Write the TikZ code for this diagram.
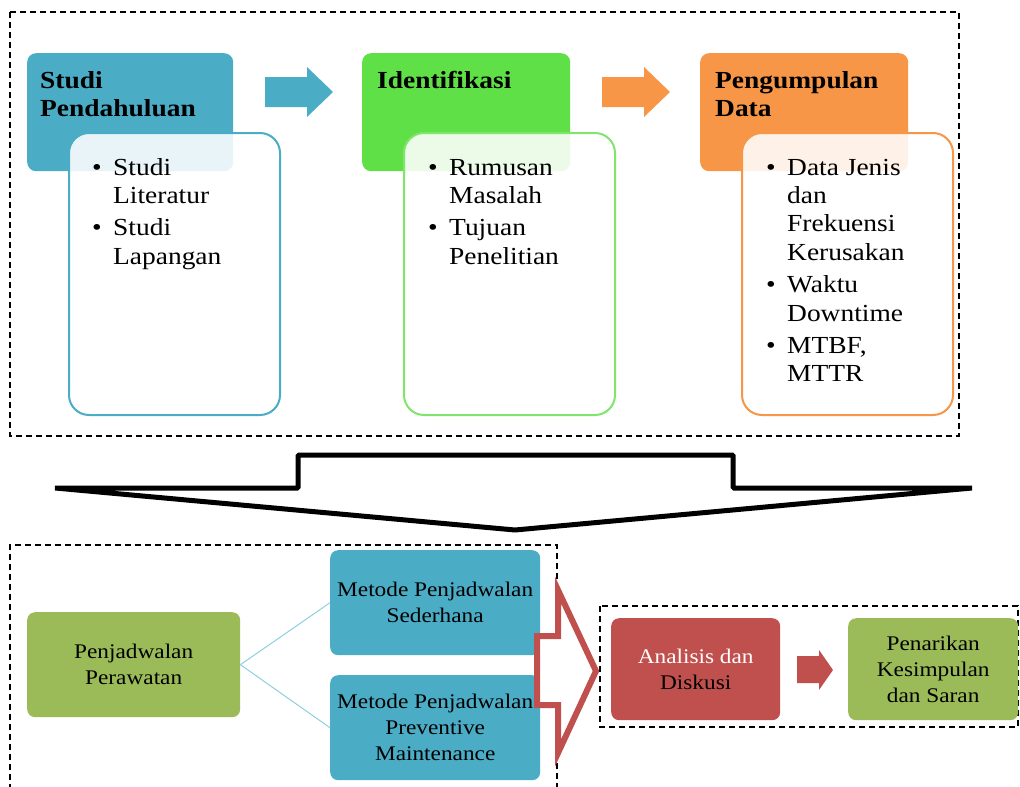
\documentclass[tikz,border=0pt]{standalone}
\usepackage{fontspec}
\setmainfont{Liberation Serif}[FakeStretch=1.12]
\definecolor{cblue}{HTML}{4BACC6}
\definecolor{cgreen}{RGB}{95,224,70}
\definecolor{corange}{HTML}{F79646}
\definecolor{colive}{HTML}{9BBB59}
\definecolor{cred}{HTML}{C0504D}
\definecolor{cline}{HTML}{8CCFE0}
\newcommand{\bul}{\makebox[21pt][l]{\textbullet}}
\newcommand{\ind}{\hspace*{21pt}}
\newcommand{\topfont}{\fontsize{24.5}{28.4}\selectfont}
\newcommand{\lowfont}{\fontsize{20.8}{26}\selectfont}
\begin{document}
\begin{tikzpicture}[x=1pt,y=-1pt,
  dashbox/.style={draw=black, line width=1.4pt, dash pattern=on 6pt off 4pt},
  hdr/.style={rounded corners=9pt, draw=none, anchor=north west, inner sep=0pt},
  subbox/.style={rounded corners=20pt, line width=2pt, fill=white, fill opacity=0.88, anchor=north west, inner sep=0pt, minimum width=211pt, minimum height=282pt},
  htext/.style={anchor=base west, inner sep=0pt, font=\topfont\bfseries},
  btext/.style={anchor=base west, inner sep=0pt, font=\topfont},
  lbox/.style={rounded corners=8pt, draw=none, anchor=north west, inner sep=2pt, align=center, font=\lowfont},
  linkline/.style={draw=cline, line width=1pt}]
\useasboundingbox (0,0) rectangle (1020,787);

% top dashed frame
\draw[dashbox] (10,12) rectangle (959,436);

% headers
\node[hdr, fill=cblue, minimum width=206pt, minimum height=118pt] (h1) at (27,53) {};
\node[hdr, fill=cgreen, minimum width=208pt, minimum height=118pt] (h2) at (362,53) {};
\node[hdr, fill=corange, minimum width=208pt, minimum height=118pt] (h3) at (700,53) {};

% block arrows between headers
\fill[cblue] (265,77) -- (307,77) -- (307,67) -- (333,92) -- (307,117) -- (307,107) -- (265,107) -- cycle;
\fill[corange] (602,77) -- (644,77) -- (644,67) -- (670,92) -- (644,117) -- (644,107) -- (602,107) -- cycle;

% sub boxes
\node[subbox, draw=cblue] (s1) at (68,132) {};
\node[subbox, draw=cgreen!80!white] (s2) at (403,132) {};
\node[subbox, draw=corange] (s3) at (741,132) {};

% header texts
\node[htext] (t1) at (40,88) {\begin{tabular}[t]{@{}l@{}}Studi\\Pendahuluan\end{tabular}};
\node[htext] (t2) at (377,88) {\begin{tabular}[t]{@{}l@{}}Identifikasi\end{tabular}};
\node[htext] (t3) at (715,88) {\begin{tabular}[t]{@{}l@{}}Pengumpulan\\Data\end{tabular}};

% bullet lists
\node[btext] (b1) at (92,175) {\begin{tabular}[t]{@{}l@{}}\bul Studi\\\ind Literatur\\[4pt]\bul Studi\\\ind Lapangan\end{tabular}};
\node[btext] (b2) at (428,175) {\begin{tabular}[t]{@{}l@{}}\bul Rumusan\\\ind Masalah\\[4pt]\bul Tujuan\\\ind Penelitian\end{tabular}};
\node[btext] (b3) at (766,175) {\begin{tabular}[t]{@{}l@{}}\bul Data Jenis\\\ind dan\\\ind Frekuensi\\\ind Kerusakan\\[4pt]\bul Waktu\\\ind Downtime\\[4pt]\bul MTBF,\\\ind MTTR\end{tabular}};

% big down arrow
\draw[line width=5pt, line join=bevel] (55,488) -- (298,488) -- (298,455) -- (733,455) -- (733,488) -- (972,488) -- (515,530) -- cycle;

% bottom-left dashed frame
\draw[dashbox] (10,800) -- (10,545) -- (557,545) -- (557,800);

\node[lbox, fill=colive, minimum width=213pt, minimum height=105pt] (pp) at (27,612) {Penjadwalan\\Perawatan};
\node[lbox, fill=cblue, minimum width=210pt, minimum height=105pt] (m1) at (330,550) {Metode Penjadwalan\\Sederhana};
\node[lbox, fill=cblue, minimum width=210pt, minimum height=105pt] (m2) at (330,675) {Metode Penjadwalan\\Preventive\\Maintenance};
\draw[linkline] (pp.east) -- (m1.west);
\draw[linkline] (pp.east) -- (m2.west);

% hollow red arrow
\draw[draw=cred, fill=white, line width=6pt, line join=miter, miter limit=8] (537,636) -- (558,636) -- (558,590) -- (596,671) -- (558,753) -- (558,705) -- (537,705) -- cycle;

% right dashed frame
\draw[dashbox] (600,606) rectangle (1018,727);
\node[lbox, fill=cred, minimum width=169pt, minimum height=102pt] (ad) at (611,618) {\textcolor{white}{Analisis dan}\\Diskusi};
\fill[cred] (797,656) -- (819,656) -- (819,650) -- (833,670) -- (819,690) -- (819,683) -- (797,683) -- cycle;
\node[lbox, fill=colive, minimum width=170pt, minimum height=102pt] (pk) at (848,618) {Penarikan\\Kesimpulan\\dan Saran};
\end{tikzpicture}
\end{document}
